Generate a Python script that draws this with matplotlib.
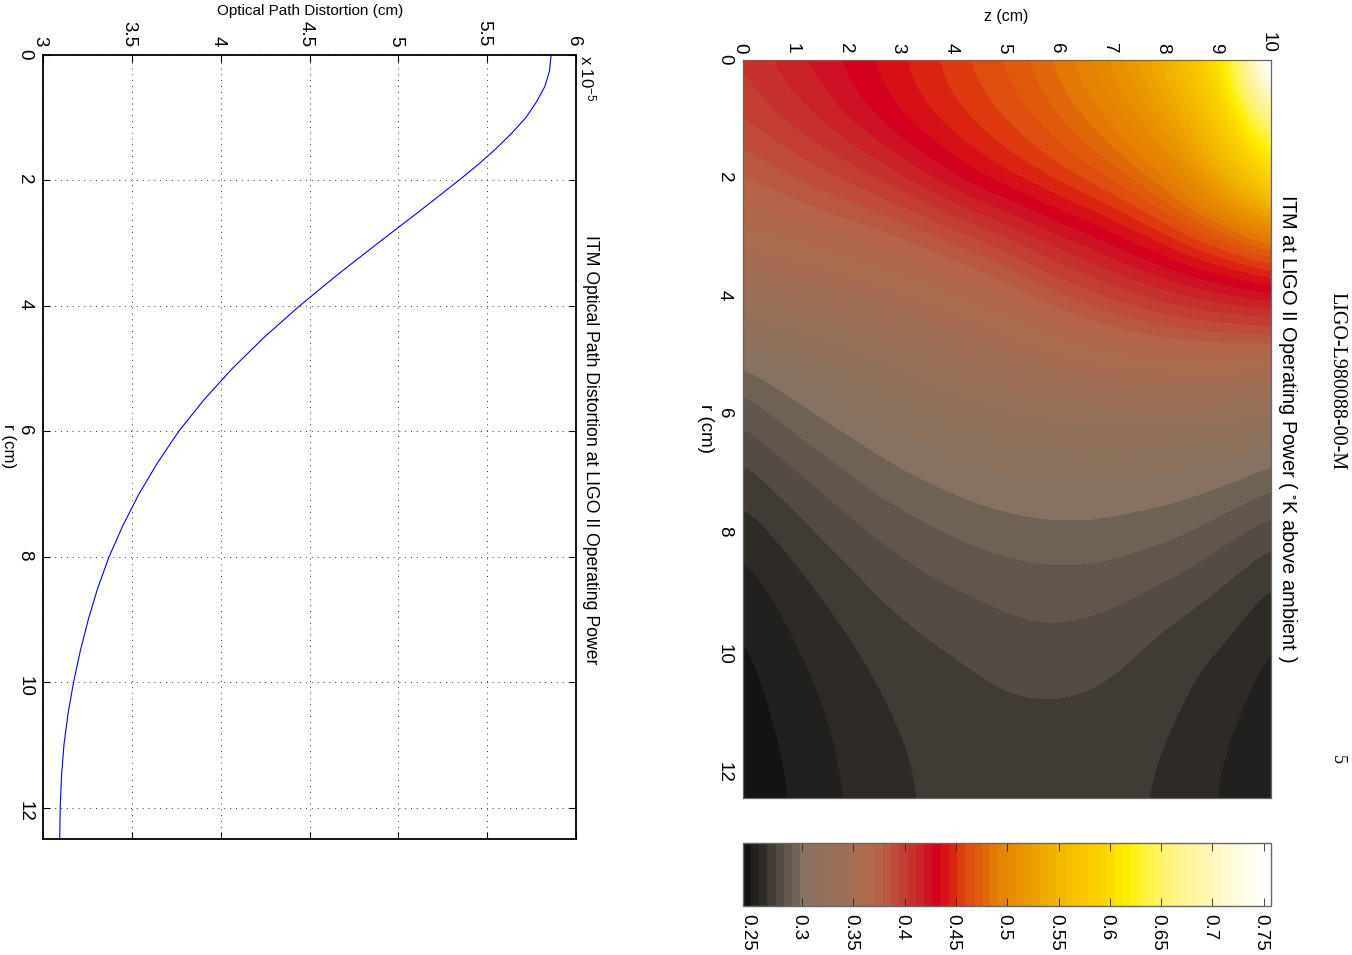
#!/usr/bin/env python3
# -*- coding: utf-8 -*-
import matplotlib
matplotlib.use('Agg')
import matplotlib.pyplot as plt
from matplotlib.colors import LinearSegmentedColormap, Normalize
from matplotlib.transforms import ScaledTranslation
import numpy as np

plt.rcParams['font.family'] = 'Liberation Sans'
plt.rcParams['mathtext.default'] = 'regular'

# optical path distortion curve (x 1e-5 cm)
r_opd = [0, 0.25, 0.5, 0.75, 1, 1.25, 1.5, 1.75, 2, 2.5, 3, 3.5, 4, 4.5, 5, 5.5, 6, 6.5, 7, 7.5, 8, 8.5, 9, 9.5, 10, 10.5, 11, 11.5, 12, 12.5]
opd = [5.86, 5.851, 5.825, 5.777, 5.7175, 5.637, 5.5475, 5.448, 5.34, 5.115, 4.885, 4.659, 4.444, 4.245, 4.065, 3.905, 3.764, 3.645, 3.54, 3.45, 3.372, 3.308, 3.255, 3.21, 3.172, 3.141, 3.118, 3.104, 3.097, 3.094]
opd_xticks = [3, 3.5, 4, 4.5, 5, 5.5, 6]
opd_xlabels = ['3', '3.5', '4', '4.5', '5', '5.5', '6']
r_ticks = [0, 2, 4, 6, 8, 10, 12]
z_ticks = [0, 1, 2, 3, 4, 5, 6, 7, 8, 9, 10]
cb_ticks = [0.25, 0.3, 0.35, 0.4, 0.45, 0.5, 0.55, 0.6, 0.65, 0.7, 0.75]
cb_labels = ['0.25', '0.3', '0.35', '0.4', '0.45', '0.5', '0.55', '0.6', '0.65', '0.7', '0.75']

# temperature, rows r = 0..13, columns z = 0..10 step 0.5
r_temp = [0, 1, 2, 3, 4, 5, 6, 7, 8, 9, 10, 11, 12, 13]
z_temp = [0, 0.5, 1, 1.5, 2, 2.5, 3, 3.5, 4, 4.5, 5, 5.5, 6, 6.5, 7, 7.5, 8, 8.5, 9, 9.5, 10]
temp = [
    [.405, .4117, .418, .424, .4305, .4366, .443, .449, .456, .463, .470, .478, .488, .499, .512, .528, .547, .575, .61, .68, .80],
    [.395, .401, .407, .413, .421, .428, .436, .443, .449, .455, .461, .468, .476, .485, .495, .508, .523, .545, .58, .625, .66],
    [.378, .382, .387, .392, .397, .403, .411, .419, .428, .436, .443, .449, .456, .463, .471, .481, .493, .512, .535, .565, .605],
    [.36, .362, .365, .368, .371, .374, .378, .383, .389, .395, .402, .41, .418, .424, .432, .44, .449, .459, .468, .478, .488],
    [.335, .337, .34, .343, .347, .35, .354, .358, .362, .367, .372, .378, .385, .391, .397, .402, .407, .412, .416, .42, .424],
    [.3005, .306, .31, .314, .318, .322, .327, .332, .337, .341, .346, .35, .355, .359, .362, .365, .367, .368, .369, .368, .367],
    [.2846, .29, .295, .2995, .303, .3065, .3095, .3125, .315, .3175, .3195, .3215, .323, .324, .325, .3255, .3255, .325, .3235, .321, .3175],
    [.2715, .2765, .2813, .2858, .2902, .2942, .2975, .3002, .3025, .3045, .306, .307, .3075, .3075, .307, .306, .3052, .304, .3022, .2995, .295],
    [.2616, .2658, .2705, .275, .279, .2828, .2858, .2885, .291, .293, .2945, .2955, .296, .296, .2952, .294, .2925, .29, .2858, .2815, .2775],
    [.2535, .2581, .2625, .2667, .2705, .2742, .2772, .2797, .2815, .2832, .2845, .2855, .2858, .2855, .2845, .2826, .2798, .2768, .2732, .2692, .2645],
    [.2486, .253, .2575, .2612, .2648, .268, .2706, .2727, .2743, .2762, .2782, .2792, .2792, .2782, .2765, .2738, .2708, .268, .2657, .2622, .2575],
    [.246, .25, .2538, .2578, .2612, .2645, .2672, .2692, .2705, .2715, .2722, .2726, .2726, .2722, .2712, .2695, .2675, .265, .2612, .2577, .2525],
    [.2445, .2478, .2515, .2557, .2592, .2625, .265, .2675, .269, .27, .2708, .2712, .2712, .2705, .2695, .2672, .2652, .262, .2583, .2545, .2495],
    [.244, .2472, .2508, .2548, .2585, .2618, .2645, .267, .2685, .2695, .2702, .2706, .2706, .27, .2688, .2665, .2645, .2612, .2575, .2538, .249],
]

# colour scale
cmap_vals = [.242, .2502, .2584, .2665, .2747, .2829, .2911, .30, .33, .36, .372, .39, .41, .431, .445, .46, .475, .49, .51, .55, .60, .622, .635, .66, .70, .73, .75]
cmap_cols = ['#131311', '#222120', '#2f2b27', '#403b35', '#534b44', '#63574d', '#716256', '#8a7361', '#9a7058', '#ad6b4d', '#b5654a',
             '#c04a38', '#c82a2a', '#d4001e', '#db2012', '#df4a0f', '#e0600a', '#e47e05', '#e88f00', '#f4b600', '#fcd800', '#fff000',
             '#fff233', '#fff27a', '#fff6b8', '#fffce0', '#ffffff']
vmin = 0.242
vmax = 0.7571

W = 1352.0
H = 955.0

def box(x0, y0, x1, y1): # pixel box to figure fractions
    return [x0/W, 1-y1/H, (x1-x0)/W, (y1-y0)/H]

def fig_text(x, y, s, size=13.5, **kw): # text placed by pixel centre, turned like the page
    kw.setdefault('rotation', -90)
    fig.text(x/W, 1-y/H, s, fontsize=size, ha='center', va='center', **kw)

def shift_xlabels(a, dx): # rotated labels sit a bit right of their ticks, pull them back
    off = ScaledTranslation(dx/100.0, 0, fig.dpi_scale_trans)
    for t in a.xaxis.get_major_ticks():
        t.label1.set_transform(t.label1.get_transform()+off)
        t.label2.set_transform(t.label2.get_transform()+off)

fig = plt.figure(figsize=(13.52, 9.55), dpi=100, facecolor='white')

# left plot
ax = fig.add_axes(box(43, 55, 576, 839))
ax.plot(opd, r_opd, color='#0000ff', lw=0.8)
ax.set_xlim(3, 6)
ax.set_ylim(12.5, 0)
ax.set_xticks(opd_xticks)
ax.set_xticklabels(opd_xlabels)
ax.set_yticks(r_ticks)
ax.grid(True, color='#333333', linestyle=(0, (1, 5)), lw=0.7)
ax.tick_params(direction='in', length=5, width=0.8, top=True, right=True, bottom=True, left=True,
               labeltop=True, labelbottom=False, labelsize=13.5, pad=6)
ax.tick_params(axis='x', labelrotation=-90)
ax.tick_params(axis='y', labelrotation=-90, pad=7)
shift_xlabels(ax, -3)
for s in ax.spines.values():
    s.set_linewidth(1.3)

# contour picture
positions = np.array(cmap_vals)
positions = (positions-vmin)/(vmax-vmin)
positions[-1] = 1.0
cmap = LinearSegmentedColormap.from_list('ligo', list(zip(positions, cmap_cols)), N=64)
norm = Normalize(vmin, vmax)

ax2 = fig.add_axes(box(742.5, 60, 1271, 798))
im = ax2.imshow(np.array(temp), cmap=cmap, norm=norm, aspect='auto', origin='upper', interpolation='bicubic',
                interpolation_stage='data', extent=[z_temp[0]-0.25, z_temp[-1]+0.25, r_temp[-1]+0.5, r_temp[0]-0.5])
ax2.set_xlim(0, 10)
ax2.set_ylim(12.5, 0)
ax2.set_xticks(z_ticks)
ax2.set_yticks(r_ticks)
ax2.tick_params(length=0, top=False, bottom=False, labeltop=True, labelbottom=False, labelsize=13.5, pad=5)
ax2.tick_params(axis='x', labelrotation=-90)
ax2.tick_params(axis='y', labelrotation=-90, pad=7)
shift_xlabels(ax2, -3)
for s in ax2.spines.values():
    s.set_linewidth(0.9)
    s.set_color('#666666')

# colour bar
cax = fig.add_axes(box(742.5, 843, 1271, 906))
cb = fig.colorbar(im, cax=cax, orientation='horizontal')
cb.set_ticks(cb_ticks)
cb.set_ticklabels(cb_labels)
cb.outline.set_linewidth(1.0)
cb.outline.set_edgecolor('#666666')
cax.tick_params(direction='in', length=6, width=0.6, color='#222222', top=True, bottom=True, labelsize=13.5, pad=6)
cax.tick_params(axis='x', labelrotation=-90)
shift_xlabels(cax, -3)

# labels
fig_text(1288, 428, 'ITM at LIGO II Operating Power ( $^{\\circ}$K above ambient )', size=14.4)
fig_text(591, 449.5, 'ITM Optical Path Distortion at LIGO II Operating Power', size=12.7)
fig_text(706, 428, 'r (cm)')
fig_text(8, 446, 'r (cm)', size=12.2)
fig_text(588, 78, 'x 10$^{-5}$', size=12)
fig_text(310, 11, 'Optical Path Distortion (cm)', size=11, rotation=0)
fig_text(1006, 16, 'z (cm)', size=11.5, rotation=0)
fig_text(1337, 381.5, 'LIGO-L980088-00-M', size=14.4, family='Liberation Serif')
fig_text(1337, 759, '5', size=13, family='Liberation Serif')

plt.savefig('out.png', dpi=100)
